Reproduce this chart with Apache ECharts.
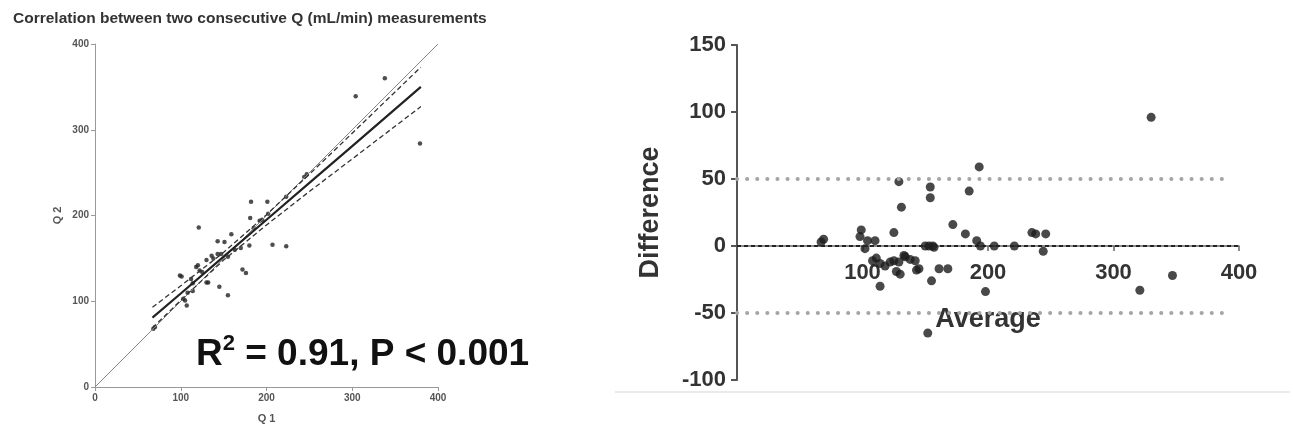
<!DOCTYPE html>
<html>
<head>
<meta charset="utf-8">
<script src="https://cdn.jsdelivr.net/npm/echarts@6/dist/echarts.min.js"></script>
<style>
  html, body { margin: 0; padding: 0; background: #fff; }
  #main { width: 1293px; height: 435px; }
</style>
</head>
<body>
<div id="main"></div>
<script>
/**
 * left panel: Q1 vs Q2 scatter with regression + 95% band
 */
var q1q2Points = [
    [68, 68], [70, 70], [99, 130], [101, 129], [103, 103], [105, 101], [107, 95],
    [108, 110], [112, 126], [114, 121], [114, 112], [118, 140], [120, 142], [121, 186],
    [122, 136], [125, 134], [130, 122], [130, 148], [132, 122], [136, 153], [138, 150],
    [143, 155], [143, 170], [145, 117], [147, 155], [151, 169], [155, 107], [155, 152],
    [159, 178], [163, 160], [170, 162], [172, 137], [176, 133], [180, 165], [181, 197],
    [182, 216], [185, 185], [192, 194], [195, 195], [201, 216], [202, 202], [207, 166],
    [223, 164], [223, 222], [244, 245], [247, 248], [304, 339], [338, 360], [379, 284]
];
var fitX = [67, 100, 150, 200, 250, 300, 380];
var fitY = [81, 109, 152, 195, 238, 281, 350];
var upperBand = [93, 118, 157, 201, 248, 296, 373];
var lowerBand = [69, 101, 148, 189, 228, 266, 327];
var identityX = [0, 400];
var axisTicks = [0, 100, 200, 300, 400];

/**
 * right panel: Bland-Altman (average vs difference)
 */
var baPoints = [
    [67, 3], [69, 5], [99, 12], [98, 7], [104, 4], [110, 4], [102, -2],
    [108, -11], [111, -9], [114, -13], [118, -15], [122, -12], [125, -11], [129, -12],
    [134, -8], [127, -19], [130, -21], [114, -30], [125, 10], [129, 48], [131, 29],
    [133, -7], [138, -10], [143, -18], [145, -17], [142, -11], [150, 0], [153, 0],
    [156, 0], [154, 44], [154, 36], [155, -26], [157, -1], [161, -17], [168, -17],
    [152, -65], [172, 16], [182, 9], [185, 41], [191, 4], [193, 59], [194, 0],
    [198, -34], [205, 0], [221, 0], [235, 10], [238, 9], [246, 9], [244, -4],
    [321, -33], [330, 96], [347, -22]
];
var limitValues = [50, -50];
var biasValue = 0;
var limitRange = [0, 392];

var pairs = function(xs, ys){
    return xs.map(function(x, i){ return [x, ys[i]]; });
};

var smallLabel = { fontSize: 10, fontWeight: 'bold', color: '#555', fontFamily: 'Liberation Sans', margin: 6 };
var bigLabel = { fontSize: 22, fontWeight: 'bold', color: '#333', fontFamily: 'Liberation Sans' };

// right grid: 150 at top 45, -100 at 380 -> zero sits 134px above the bottom
var baTop = 45, baHeight = 335;
var zeroOffset = -baHeight * (0 - (-100)) / (150 - (-100));

var chart = echarts.init(document.getElementById('main'));

var option = {
    backgroundColor: '#fff',
    animation: false,
    title: {
        text: 'Correlation between two consecutive Q (mL/min) measurements',
        left: 8, top: 6,
        textStyle: { fontSize: 15.5, fontWeight: 'bold', color: '#333', fontFamily: 'Liberation Sans' }
    },
    grid: [
        { left: 95, top: 44, width: 343, height: 343, outerBoundsMode: 'none' },
        { left: 737, top: baTop, width: 502, height: baHeight, outerBoundsMode: 'none' }
    ],
    xAxis: [
        {
            gridIndex: 0, type: 'value', min: axisTicks[0], max: axisTicks[4], interval: 100,
            name: 'Q 1', nameLocation: 'middle', nameGap: 26,
            nameTextStyle: { fontSize: 11, fontWeight: 'bold', color: '#555', fontFamily: 'Liberation Sans' },
            axisLine: { onZero: false, lineStyle: { color: '#999', width: 1 } },
            axisTick: { show: true, length: 4, lineStyle: { color: '#999' } },
            axisLabel: smallLabel,
            splitLine: { show: false }
        },
        {
            gridIndex: 1, type: 'value', min: 0, max: 400, interval: 100,
            position: 'bottom', offset: zeroOffset,
            name: 'Average', nameLocation: 'middle', nameGap: 60,
            nameTextStyle: { fontSize: 27, fontWeight: 'bold', color: '#333', fontFamily: 'Liberation Sans' },
            axisLine: { onZero: false, lineStyle: { color: '#666', width: 1.5 } },
            axisTick: { show: true, length: 5, lineStyle: { color: '#666', width: 1.5 } },
            axisLabel: Object.assign({ margin: 16, showMinLabel: false }, bigLabel),
            splitLine: { show: false }
        }
    ],
    yAxis: [
        {
            gridIndex: 0, type: 'value', min: 0, max: 400, interval: 100,
            name: 'Q 2', nameLocation: 'middle', nameGap: 32,
            nameTextStyle: { fontSize: 11, fontWeight: 'bold', color: '#555', fontFamily: 'Liberation Sans' },
            axisLine: { show: true, lineStyle: { color: '#999', width: 1 } },
            axisTick: { show: true, length: 4, lineStyle: { color: '#999' } },
            axisLabel: smallLabel,
            splitLine: { show: false }
        },
        {
            gridIndex: 1, type: 'value', min: -100, max: 150, interval: 50,
            name: 'Difference', nameLocation: 'middle', nameGap: 73,
            nameTextStyle: { fontSize: 27, fontWeight: 'bold', color: '#333', fontFamily: 'Liberation Sans' },
            axisLine: { show: true, lineStyle: { color: '#555', width: 2 } },
            axisTick: { show: true, length: 6, lineStyle: { color: '#555', width: 2 } },
            axisLabel: Object.assign({ margin: 11 }, bigLabel),
            splitLine: { show: false }
        }
    ],
    series: [
        {
            type: 'line', xAxisIndex: 0, yAxisIndex: 0, silent: true, showSymbol: false,
            data: pairs(identityX, identityX),
            lineStyle: { color: '#888', width: 1 }
        },
        {
            type: 'line', xAxisIndex: 0, yAxisIndex: 0, silent: true, showSymbol: false,
            data: pairs(fitX, upperBand),
            lineStyle: { color: '#333', width: 1.3, type: [5, 3] }
        },
        {
            type: 'line', xAxisIndex: 0, yAxisIndex: 0, silent: true, showSymbol: false,
            data: pairs(fitX, lowerBand),
            lineStyle: { color: '#333', width: 1.3, type: [5, 3] }
        },
        {
            type: 'line', xAxisIndex: 0, yAxisIndex: 0, silent: true, showSymbol: false,
            data: pairs(fitX, fitY),
            lineStyle: { color: '#222', width: 2.2 }
        },
        {
            type: 'scatter', xAxisIndex: 0, yAxisIndex: 0,
            symbolSize: 4.5, data: q1q2Points,
            itemStyle: { color: '#222' }
        },
        // limits of agreement (dotted gray)
        {
            type: 'line', xAxisIndex: 1, yAxisIndex: 1, silent: true, showSymbol: false,
            data: limitRange.map(function(x){ return [x, limitValues[0]]; }),
            lineStyle: { color: '#a5a5a5', width: 4, type: [0.1, 10], cap: 'round' }
        },
        {
            type: 'line', xAxisIndex: 1, yAxisIndex: 1, silent: true, showSymbol: false,
            data: limitRange.map(function(x){ return [x, limitValues[1]]; }),
            lineStyle: { color: '#a5a5a5', width: 4, type: [0.1, 10], cap: 'round' }
        },
        {
            type: 'line', xAxisIndex: 1, yAxisIndex: 1, silent: true, showSymbol: false,
            data: [[0, biasValue], [400, biasValue]],
            lineStyle: { color: '#222', width: 2, type: [4, 3] }
        },
        {
            type: 'scatter', xAxisIndex: 1, yAxisIndex: 1,
            symbolSize: 9, data: baPoints,
            itemStyle: { color: '#1c1c1c' }
        }
    ],
    graphic: [
        {
            type: 'text', left: 196, top: 333, z: 100,
            style: {
                text: '{a|R}{b|2}{a| = 0.91, P < 0.001}',
                rich: {
                    a: { fontSize: 37, fontWeight: 'bold', fill: '#111', fontFamily: 'Liberation Sans', lineHeight: 44 },
                    b: { fontSize: 22, fontWeight: 'bold', fill: '#111', fontFamily: 'Liberation Sans', verticalAlign: 'top', lineHeight: 44 }
                }
            }
        },
        {
            type: 'line', z: 1,
            shape: { x1: 615, y1: 392, x2: 1290, y2: 392 },
            style: { stroke: '#e3e3e3', lineWidth: 1.5 }
        }
    ]
};

chart.setOption(option);
</script>
</body>
</html>
